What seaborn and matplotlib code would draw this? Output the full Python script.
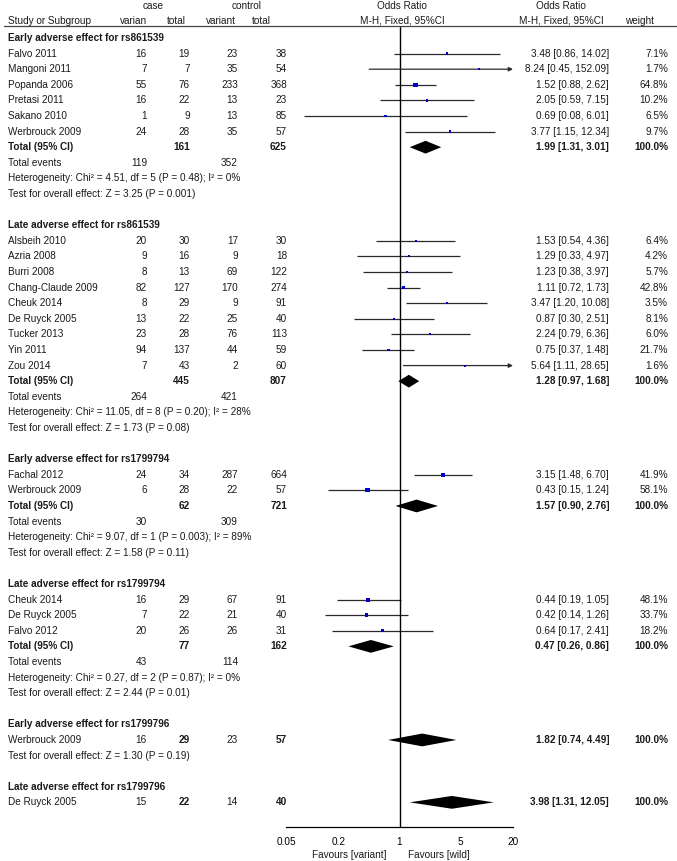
import matplotlib
matplotlib.use("Agg")
import matplotlib.pyplot as plt
from matplotlib.transforms import blended_transform_factory
from matplotlib.lines import Line2D
from matplotlib.ticker import NullLocator
import pandas as pd
import seaborn as sns

group_titles = [
    "Early adverse effect for rs861539",
    "Late adverse effect for rs861539",
    "Early adverse effect for rs1799794",
    "Late adverse effect for rs1799794",
    "Early adverse effect for rs1799796",
    "Late adverse effect for rs1799796",
]

study_names = [
    "Falvo 2011", "Mangoni 2011", "Popanda 2006", "Pretasi 2011", "Sakano 2010", "Werbrouck 2009",
    "Alsbeih 2010", "Azria 2008", "Burri 2008", "Chang-Claude 2009", "Cheuk 2014", "De Ruyck 2005",
    "Tucker 2013", "Yin 2011", "Zou 2014",
    "Fachal 2012", "Werbrouck 2009",
    "Cheuk 2014", "De Ruyck 2005", "Falvo 2012",
    "Werbrouck 2009",
    "De Ruyck 2005",
]
study_group = [0] * 6 + [1] * 9 + [2] * 2 + [3] * 3 + [4] + [5]
case_events = [16, 7, 55, 16, 1, 24, 20, 9, 8, 82, 8, 13, 23, 94, 7, 24, 6, 16, 7, 20, 16, 15]
case_totals = [19, 7, 76, 22, 9, 28, 30, 16, 13, 127, 29, 22, 28, 137, 43, 34, 28, 29, 22, 26, 29, 22]
ctrl_events = [23, 35, 233, 13, 13, 35, 17, 9, 69, 170, 9, 25, 76, 44, 2, 287, 22, 67, 21, 26, 23, 14]
ctrl_totals = [38, 54, 368, 23, 85, 57, 30, 18, 122, 274, 91, 40, 113, 59, 60, 664, 57, 91, 40, 31, 57, 40]
study_or = [3.48, 8.24, 1.52, 2.05, 0.69, 3.77, 1.53, 1.29, 1.23, 1.11, 3.47, 0.87, 2.24, 0.75, 5.64,
            3.15, 0.43, 0.44, 0.42, 0.64, 1.82, 3.98]
study_lo = [0.86, 0.45, 0.88, 0.59, 0.08, 1.15, 0.54, 0.33, 0.38, 0.72, 1.20, 0.30, 0.79, 0.37, 1.11,
            1.48, 0.15, 0.19, 0.14, 0.17, 0.74, 1.31]
study_hi = [14.02, 152.09, 2.62, 7.15, 6.01, 12.34, 4.36, 4.97, 3.97, 1.73, 10.08, 2.51, 6.36, 1.48, 28.65,
            6.70, 1.24, 1.05, 1.26, 2.41, 4.49, 12.05]
study_weight = [7.1, 1.7, 64.8, 10.2, 6.5, 9.7, 6.4, 4.2, 5.7, 42.8, 3.5, 8.1, 6.0, 21.7, 1.6,
                41.9, 58.1, 48.1, 33.7, 18.2, 100.0, 100.0]

pooled_or = [1.99, 1.28, 1.57, 0.47, 1.82, 3.98]
pooled_lo = [1.31, 0.97, 0.90, 0.26, 0.74, 1.31]
pooled_hi = [3.01, 1.68, 2.76, 0.86, 4.49, 12.05]
pooled_case_n = [161, 445, 62, 77, 29, 22]
pooled_ctrl_n = [625, 807, 721, 162, 57, 40]
events_case = [119, 264, 30, 43, None, None]
events_ctrl = [352, 421, 309, 114, None, None]
het_text = [
    "Heterogeneity: Chi² = 4.51, df = 5 (P = 0.48); I² = 0%",
    "Heterogeneity: Chi² = 11.05, df = 8 (P = 0.20); I² = 28%",
    "Heterogeneity: Chi² = 9.07, df = 1 (P = 0.003); I² = 89%",
    "Heterogeneity: Chi² = 0.27, df = 2 (P = 0.87); I² = 0%",
    None,
    None,
]
overall_text = [
    "Test for overall effect: Z = 3.25 (P = 0.001)",
    "Test for overall effect: Z = 1.73 (P = 0.08)",
    "Test for overall effect: Z = 1.58 (P = 0.11)",
    "Test for overall effect: Z = 2.44 (P = 0.01)",
    "Test for overall effect: Z = 1.30 (P = 0.19)",
    None,
]
axis_ticks = [0.05, 0.2, 1, 5, 20]

sns.set_theme(style="white")
plt.rcParams["font.family"] = ["Liberation Sans", "DejaVu Sans"]
FS = 7.2
TXT = "#1a1a1a"
W, H = 677, 861

fig = plt.figure(figsize=(W / 100, H / 100), dpi=100)
ax = fig.add_axes([286 / W, (H - 827) / H, (513 - 286) / W, (827 - 27) / H])
ax.set_xscale("log")

# lay out rows
rows = {}
r = 0
study_rows = []
for g, title in enumerate(group_titles):
    rows[("title", g)] = r
    r += 1
    for i, sg in enumerate(study_group):
        if sg == g:
            study_rows.append((i, r))
            r += 1
    single = study_group.count(g) == 1
    if single:
        rows[("diamond", g)] = r - 1
    else:
        rows[("total", g)] = r
        rows[("diamond", g)] = r
        r += 1
        rows[("events", g)] = r
        r += 1
        rows[("het", g)] = r
        r += 1
    if overall_text[g]:
        rows[("test", g)] = r
        r += 1
    r += 1

tr = blended_transform_factory(fig.transFigure, ax.transData)


def put(xpx, row, s, ha="left", bold=False):
    ax.text(xpx / W, row, s, transform=tr, ha=ha, va="center", fontsize=FS,
            fontweight="bold" if bold else "normal", color=TXT, clip_on=False)


# header
hdr1, hdr2, hline = -2.05, -1.1, -0.77
put(153, hdr1, "case", ha="center")
put(247, hdr1, "control", ha="center")
put(402, hdr1, "Odds Ratio", ha="center")
put(561, hdr1, "Odds Ratio", ha="center")
put(8, hdr2, "Study or Subgroup")
put(134, hdr2, "varian", ha="center")
put(176, hdr2, "total", ha="center")
put(221, hdr2, "variant", ha="center")
put(261, hdr2, "total", ha="center")
put(402, hdr2, "M-H, Fixed, 95%CI", ha="center")
put(561, hdr2, "M-H, Fixed, 95%CI", ha="center")
put(640, hdr2, "weight", ha="center")
fig.add_artist(Line2D([4 / W, 1.0], [hline, hline], transform=tr, color="#444444", lw=0.9))

# study rows text
for i, rr in study_rows:
    g = study_group[i]
    single = study_group.count(g) == 1
    put(8, rr, study_names[i])
    put(147, rr, str(case_events[i]), ha="right")
    put(190, rr, str(case_totals[i]), ha="right", bold=single)
    put(238, rr, str(ctrl_events[i]), ha="right")
    put(287, rr, str(ctrl_totals[i]), ha="right", bold=single)
    put(609, rr, f"{study_or[i]:.2f} [{study_lo[i]:.2f}, {study_hi[i]:.2f}]", ha="right", bold=single)
    put(668, rr, f"{study_weight[i]:.1f}%", ha="right", bold=single)

for g, title in enumerate(group_titles):
    put(8, rows[("title", g)], title, bold=True)
    if ("total", g) in rows:
        rt = rows[("total", g)]
        put(8, rt, "Total (95% CI)", bold=True)
        put(190, rt, str(pooled_case_n[g]), ha="right", bold=True)
        put(287, rt, str(pooled_ctrl_n[g]), ha="right", bold=True)
        put(609, rt, f"{pooled_or[g]:.2f} [{pooled_lo[g]:.2f}, {pooled_hi[g]:.2f}]", ha="right", bold=True)
        put(668, rt, "100.0%", ha="right", bold=True)
        re_ = rows[("events", g)]
        put(8, re_, "Total events")
        put(147, re_, str(events_case[g]), ha="right")
        put(238, re_, str(events_ctrl[g]), ha="right")
        put(8, rows[("het", g)], het_text[g])
    if ("test", g) in rows:
        put(8, rows[("test", g)], overall_text[g])

# confidence intervals
xmax = axis_ticks[-1]
for i, rr in study_rows:
    if study_group.count(study_group[i]) == 1:
        continue
    if study_hi[i] > xmax:
        ax.annotate("", xy=(xmax, rr), xytext=(study_lo[i], rr),
                    arrowprops=dict(arrowstyle="-|>", color="#2a2a2a", lw=0.9,
                                    mutation_scale=6, shrinkA=0, shrinkB=0))
    else:
        ax.hlines(rr, study_lo[i], study_hi[i], color="#2a2a2a", lw=0.9)

# study markers
multi = [(i, rr) for i, rr in study_rows if study_group.count(study_group[i]) > 1]
pts = pd.DataFrame({
    "or": [study_or[i] for i, rr in multi],
    "row": [rr for i, rr in multi],
    "weight": [study_weight[i] for i, rr in multi],
})
sns.scatterplot(data=pts, x="or", y="row", size="weight", sizes=(1.6, 10), size_norm=(0, 65),
                marker="s", color="#0000c8", edgecolor="none", linewidth=0, legend=False, ax=ax,
                zorder=3)

# pooled diamonds
hh = 0.41
for g in range(len(group_titles)):
    rd = rows[("diamond", g)]
    ax.fill([pooled_lo[g], pooled_or[g], pooled_hi[g], pooled_or[g]],
            [rd, rd - hh, rd, rd + hh], color="black", lw=0, zorder=4)

ax.axvline(1, color="black", lw=1.0, zorder=2)

ax.set_xlim(axis_ticks[0], axis_ticks[-1])
ax.set_ylim(50.58, -0.705)
ax.set_xlabel("")
ax.set_ylabel("")
ax.set_yticks([])
ax.set_xticks(axis_ticks)
ax.set_xticklabels(["0.05", "0.2", "1", "5", "20"], fontsize=FS, color=TXT)
ax.xaxis.set_minor_locator(NullLocator())
ax.tick_params(axis="x", direction="inout", length=7, width=0.9, pad=4, colors="black")
for side in ["top", "left", "right"]:
    ax.spines[side].set_visible(False)
ax.spines["bottom"].set_color("black")
ax.spines["bottom"].set_linewidth(0.9)
ax.patch.set_alpha(0)

fig.text(386 / W, 1 - 855 / H, "Favours [variant]", ha="right", va="center", fontsize=FS, color=TXT)
fig.text(408 / W, 1 - 855 / H, "Favours [wild]", ha="left", va="center", fontsize=FS, color=TXT)

fig.savefig("out.png", dpi=100)
